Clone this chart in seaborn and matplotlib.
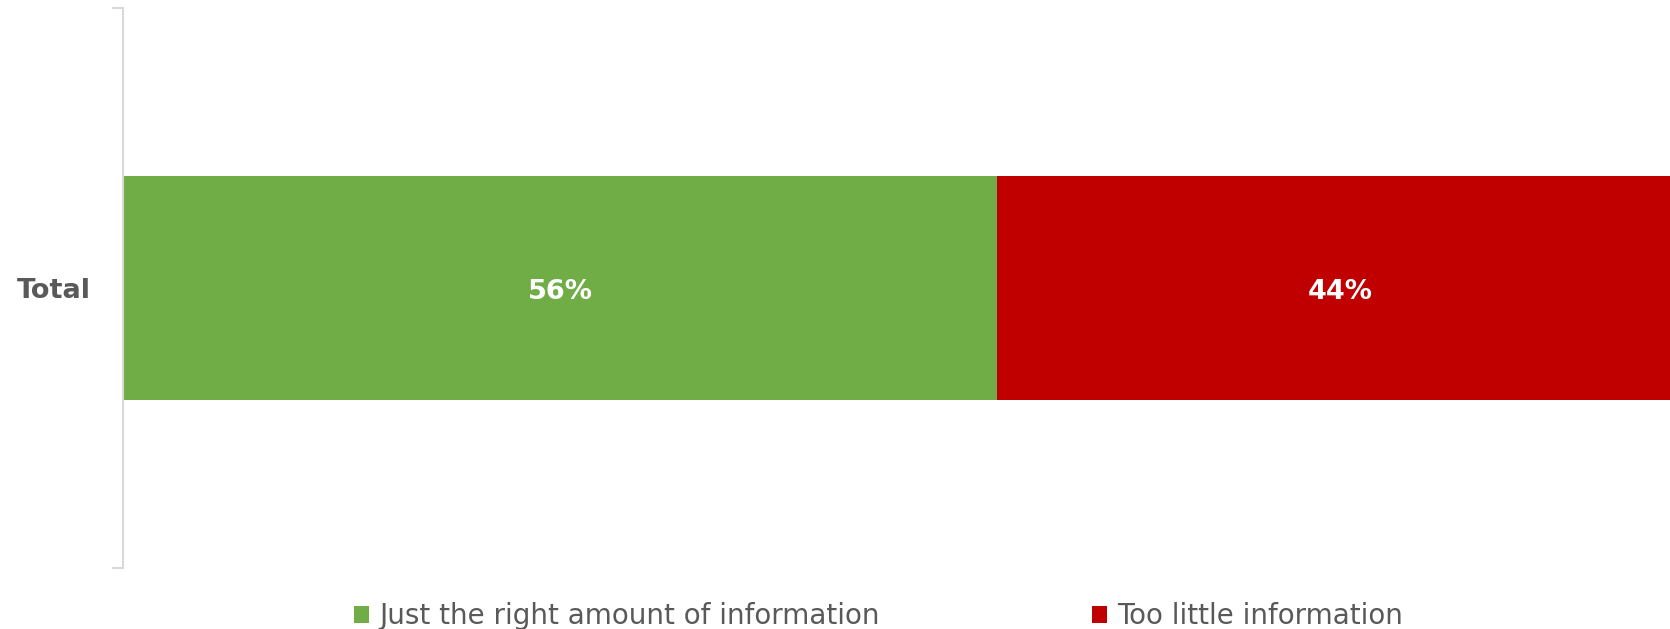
import matplotlib
matplotlib.use("Agg")
import matplotlib.pyplot as plt
from matplotlib.patches import Patch
import seaborn as sns

# Survey result: share of respondents per answer
categories = ["Total"]
just_right = [56]
too_little = [44]
series_names = ["Just the right amount of information", "Too little information"]
value_labels = ["56%", "44%"]

GREEN = "#70AD47"
RED = "#C00000"
TEXT = "#595959"
AXIS = "#D9D9D9"

sns.set_theme(style="white")
plt.rcParams["font.family"] = ["DejaVu Sans"]

W, H = 1670, 629
fig = plt.figure(figsize=(W / 100, H / 100), dpi=100)
# axes run slightly past the right edge so the stacked bar is cut by the figure border
ax = fig.add_axes([123 / W, 1 - 568 / H, 1561 / W, 560 / H])

totals = [a + b for a, b in zip(just_right, too_little)]

# stacked bar: full total in red underneath, green share on top
sns.barplot(x=totals, y=categories, orient="h", color=RED, saturation=1,
            width=0.4, ax=ax, linewidth=0)
sns.barplot(x=just_right, y=categories, orient="h", color=GREEN, saturation=1,
            width=0.4, ax=ax, linewidth=0)

ax.set_xlim(0, 100)
ax.set_ylim(0.5, -0.5)
ax.set_xlabel("")
ax.set_ylabel("")
ax.set_xticks([])

for side in ["top", "right", "bottom"]:
    ax.spines[side].set_visible(False)
ax.spines["left"].set_color(AXIS)
ax.spines["left"].set_linewidth(1.5)

ax.set_yticks([0])
ax.set_yticklabels(categories, fontsize=19.5, fontweight="bold", color=TEXT)
ax.tick_params(axis="y", which="major", length=0, pad=23)
ax.set_yticks([-0.5, 0.5], minor=True)
ax.tick_params(axis="y", which="minor", length=8, width=1.5, color=AXIS,
               direction="out", left=True)

# value labels centred in each segment
starts = [0, just_right[0]]
widths = [just_right[0], too_little[0]]
for s, w, lab in zip(starts, widths, value_labels):
    ax.text(s + w / 2, 0.007, lab, ha="center", va="center", color="white",
            fontsize=19.5, fontweight="bold")

# legend entries placed below the plot
h1 = Patch(facecolor=GREEN, edgecolor="none")
h2 = Patch(facecolor=RED, edgecolor="none")
for handle, name, x0 in [(h1, series_names[0], 354), (h2, series_names[1], 1092)]:
    fig.legend([handle], [name], loc="center left",
               bbox_to_anchor=(x0 / W, 1 - 616 / H), frameon=False,
               fontsize=20, handlelength=0.55, handleheight=0.55,
               handletextpad=0.35, borderpad=0, borderaxespad=0,
               labelcolor=TEXT)

fig.savefig("out.png", dpi=100, facecolor="white")
